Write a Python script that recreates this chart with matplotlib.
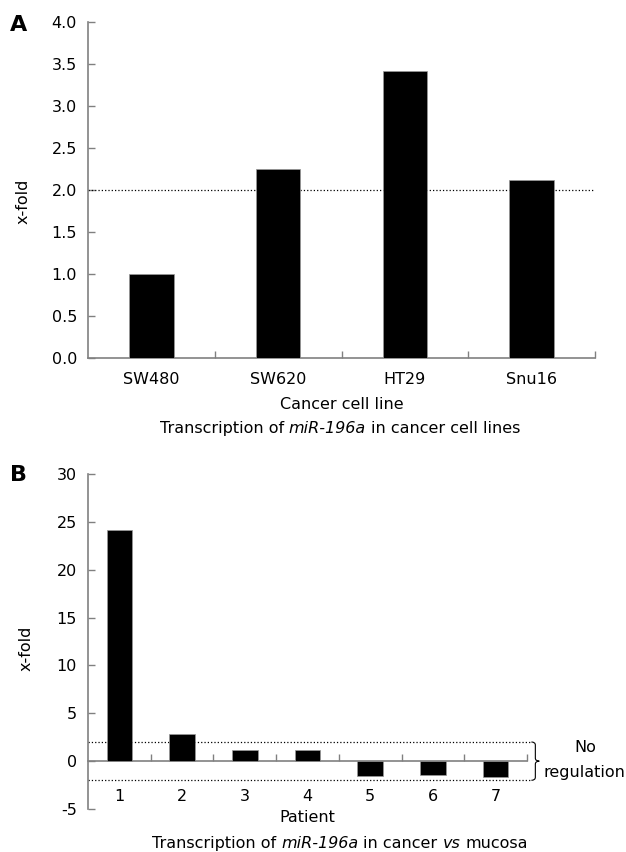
import numpy as np
import matplotlib
matplotlib.use("Agg")
import matplotlib.pyplot as plt
from matplotlib.path import Path
from matplotlib.patches import PathPatch
from matplotlib.transforms import blended_transform_factory

plt.rcParams['font.family'] = ['DejaVu Sans']
plt.rcParams['axes.unicode_minus'] = False

# panel A data
cell_lines = ['SW480', 'SW620', 'HT29', 'Snu16']
cell_fold = [1.0, 2.25, 3.42, 2.12]
cell_threshold = 2.0

# panel B data
patients = ['1', '2', '3', '4', '5', '6', '7']
patient_fold = [24.2, 2.8, 1.15, 1.15, -1.6, -1.45, -1.65]
patient_threshold = 2.0

W, H = 626, 852
fig = plt.figure(figsize=(W / 100, H / 100), dpi=100)
renderer = fig.canvas.get_renderer()

axis_grey = '#808080'
fs = 11.5


def px_axes(left, top, right, bottom):
    return fig.add_axes([left / W, 1 - bottom / H, (right - left) / W, (bottom - top) / H])


def style_axes(ax):
    for s in ['top', 'right']:
        ax.spines[s].set_visible(False)
    for s in ['left', 'bottom']:
        ax.spines[s].set_color(axis_grey)
        ax.spines[s].set_linewidth(1.2)
    ax.tick_params(axis='y', direction='in', length=5, width=1, color=axis_grey,
                   labelsize=fs, pad=8)
    ax.tick_params(axis='x', which='major', length=0, labelsize=fs)
    ax.tick_params(axis='x', which='minor', direction='in', length=5, width=1,
                   color=axis_grey)


def text_width(s, style):
    t = fig.text(0, 0, s, fontsize=fs, fontstyle=style)
    w = t.get_window_extent(renderer).width
    t.remove()
    return w


def rich_text(x_px, baseline_px, parts):
    # pieces joined by single spaces, each with its own font style
    sp = text_width('a a', 'normal') - text_width('aa', 'normal')
    widths = [text_width(s, st) for s, st in parts]
    total = sum(widths) + sp * (len(parts) - 1)
    x = x_px - total / 2
    for (s, st), w in zip(parts, widths):
        fig.text(x / W, 1 - baseline_px / H, s, fontsize=fs, fontstyle=st,
                 ha='left', va='baseline')
        x += w + sp


def brace(ax, x0, width, y_lo, y_hi):
    trans = blended_transform_factory(ax.transAxes, ax.transData)
    xm = x0 + width / 2
    ym = (y_lo + y_hi) / 2
    c = (y_hi - y_lo) * 0.08
    verts = [(x0, y_hi), (xm, y_hi), (xm, y_hi - c), (xm, ym + c),
             (xm, ym), (x0 + width, ym),
             (xm, ym), (xm, ym - c), (xm, y_lo + c),
             (xm, y_lo), (x0, y_lo)]
    codes = [Path.MOVETO, Path.CURVE3, Path.CURVE3, Path.LINETO,
             Path.CURVE3, Path.CURVE3,
             Path.CURVE3, Path.CURVE3, Path.LINETO,
             Path.CURVE3, Path.CURVE3]
    ax.add_patch(PathPatch(Path(verts, codes), transform=trans, fc='none',
                           ec='black', lw=0.8, clip_on=False))


# ---- panel A ----
axA = px_axes(88, 22, 595, 358)
xa = np.arange(len(cell_lines))
axA.bar(xa, cell_fold, width=0.35, color='black', edgecolor='#999999', lw=0.5, zorder=3)
axA.axhline(cell_threshold, color='black', ls=':', lw=0.9, zorder=2)
axA.set_xlim(-0.5, len(cell_lines) - 0.5)
axA.set_ylim(0, 4)
axA.set_yticks(np.arange(0, 4.01, 0.5))
axA.set_yticklabels([f'{v:.1f}' for v in np.arange(0, 4.01, 0.5)])
axA.set_xticks(xa)
axA.set_xticklabels(cell_lines)
axA.set_xticks(np.arange(0.5, len(cell_lines)), minor=True)
style_axes(axA)
axA.tick_params(axis='x', which='major', pad=10)
axA.set_ylabel('x-fold', fontsize=fs)
axA.yaxis.set_label_coords(-0.114, 0.467)
axA.set_xlabel('Cancer cell line', fontsize=fs)
axA.xaxis.set_label_coords(0.5, -0.116)
rich_text(340, 433, [('Transcription of', 'normal'), ('miR-196a', 'italic'),
                     ('in cancer cell lines', 'normal')])
fig.text(19 / W, 1 - 25 / H, 'A', fontsize=16, fontweight='bold', ha='center', va='center')

# ---- panel B ----
axB = px_axes(88, 474, 527, 809)
xb = np.arange(len(patients))
axB.bar(xb, patient_fold, width=0.41, color='black', edgecolor='#999999', lw=0.5, zorder=3)
axB.set_xlim(-0.5, len(patients) - 0.5)
axB.set_ylim(-5, 30)
axB.set_yticks(np.arange(-5, 31, 5))
axB.set_xticks(xb)
axB.set_xticklabels(patients)
axB.set_xticks(np.arange(0.5, len(patients)), minor=True)
style_axes(axB)
axB.spines['bottom'].set_position(('data', 0))
axB.tick_params(axis='x', which='major', pad=20)
for t in (patient_threshold, -patient_threshold):
    axB.plot([0, 1.007], [t, t], transform=blended_transform_factory(axB.transAxes, axB.transData),
             color='black', ls=':', lw=0.9, clip_on=False, zorder=2)
brace(axB, 1.01, 0.018, -patient_threshold, patient_threshold)
axB.text(585 / W, 1 - 747 / H, 'No', transform=fig.transFigure, fontsize=fs,
         ha='center', va='center')
axB.text(584 / W, 1 - 772 / H, 'regulation', transform=fig.transFigure, fontsize=fs,
         ha='center', va='center')
axB.set_ylabel('x-fold', fontsize=fs)
axB.yaxis.set_label_coords(-0.123, 0.48)
axB.set_xlabel('Patient', fontsize=fs)
axB.xaxis.set_label_coords(0.5, -0.003)
rich_text(340, 848, [('Transcription of', 'normal'), ('miR-196a', 'italic'),
                     ('in cancer', 'normal'), ('vs', 'italic'), ('mucosa', 'normal')])
fig.text(19 / W, 1 - 475 / H, 'B', fontsize=16, fontweight='bold', ha='center', va='center')

fig.savefig('out.png', dpi=100)
